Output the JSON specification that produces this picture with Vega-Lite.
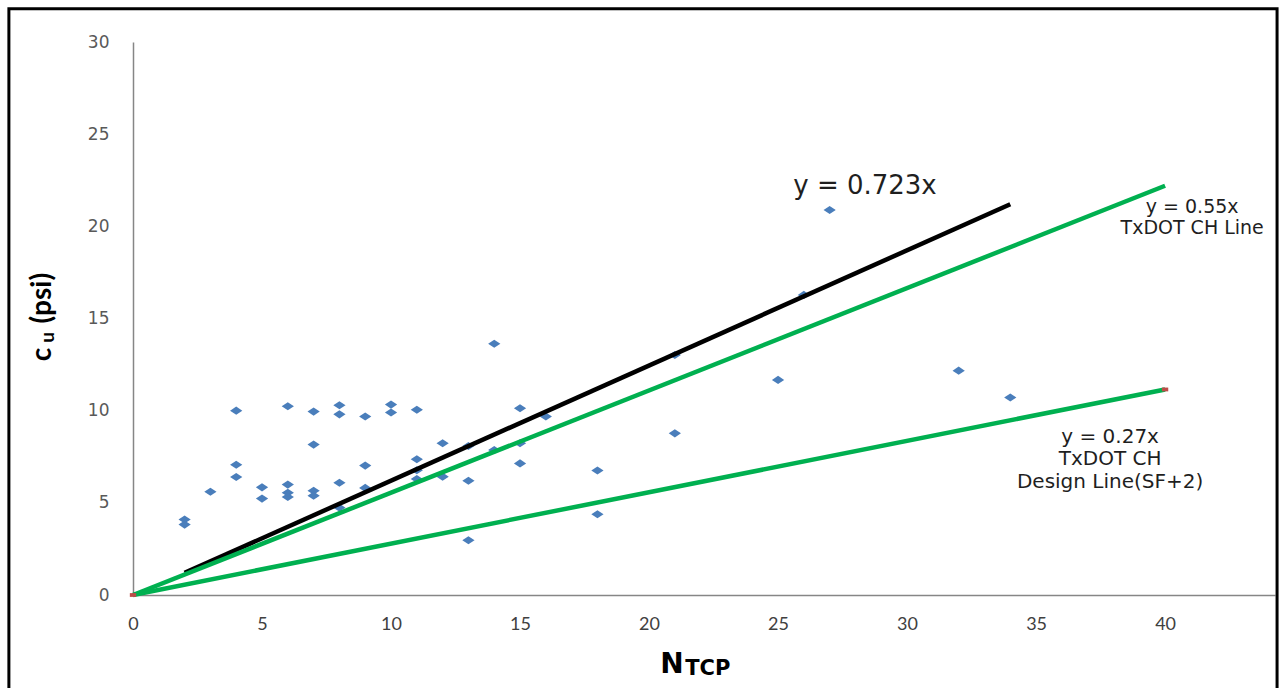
{
  "$schema": "https://vega.github.io/schema/vega-lite/v6.json",
  "width": 1142,
  "height": 553,
  "autosize": {"type": "none"},
  "padding": {"left": 133, "top": 42, "right": 6, "bottom": 93},
  "background": "white",
  "config": {"view": {"stroke": null}},
  "datasets": {
    "points": [
      {"x": 2, "y": 4.10}, {"x": 2, "y": 3.82}, {"x": 3, "y": 5.60},
      {"x": 4, "y": 10.00}, {"x": 4, "y": 7.07}, {"x": 4, "y": 6.40},
      {"x": 5, "y": 5.84}, {"x": 5, "y": 5.23},
      {"x": 6, "y": 10.24}, {"x": 6, "y": 5.99}, {"x": 6, "y": 5.55}, {"x": 6, "y": 5.32},
      {"x": 7, "y": 9.95}, {"x": 7, "y": 8.16}, {"x": 7, "y": 5.66}, {"x": 7, "y": 5.39},
      {"x": 8, "y": 10.29}, {"x": 8, "y": 9.80}, {"x": 8, "y": 6.09}, {"x": 8, "y": 4.74},
      {"x": 9, "y": 9.68}, {"x": 9, "y": 7.02}, {"x": 9, "y": 5.81},
      {"x": 10, "y": 10.33}, {"x": 10, "y": 9.90},
      {"x": 11, "y": 10.05}, {"x": 11, "y": 7.36}, {"x": 11, "y": 6.77}, {"x": 11, "y": 6.29},
      {"x": 12, "y": 8.23}, {"x": 12, "y": 6.42},
      {"x": 13, "y": 8.08}, {"x": 13, "y": 6.20}, {"x": 13, "y": 2.97},
      {"x": 14, "y": 13.63}, {"x": 14, "y": 7.87},
      {"x": 15, "y": 10.13}, {"x": 15, "y": 8.23}, {"x": 15, "y": 7.14},
      {"x": 16, "y": 9.68},
      {"x": 18, "y": 6.75}, {"x": 18, "y": 4.38},
      {"x": 21, "y": 13.02}, {"x": 21, "y": 8.77},
      {"x": 25, "y": 11.67}, {"x": 26, "y": 16.28}, {"x": 27, "y": 20.89},
      {"x": 32, "y": 12.17}, {"x": 34, "y": 10.71}
    ],
    "lines": [
      {"series": "fit", "x": 2, "y": 1.2},
      {"series": "fit", "x": 34, "y": 21.2},
      {"series": "ch", "x": 0, "y": 0},
      {"series": "ch", "x": 40, "y": 22.2},
      {"series": "design", "x": 0, "y": 0},
      {"series": "design", "x": 40, "y": 11.15}
    ],
    "markers": [
      {"x": 0, "y": 0},
      {"x": 40, "y": 11.15}
    ],
    "labels": [
      {"role": "fit", "x": 28.37, "y": 22.19, "text": "y = 0.723x"},
      {"role": "ch", "x": 41.05, "y": 21.05, "text": "y = 0.55x"},
      {"role": "ch", "x": 41.05, "y": 19.91, "text": "TxDOT CH Line"},
      {"role": "design", "x": 37.87, "y": 8.57, "text": "y = 0.27x"},
      {"role": "design", "x": 37.87, "y": 7.40, "text": "TxDOT CH"},
      {"role": "design", "x": 37.87, "y": 6.13, "text": "Design Line(SF+2)"},
      {"role": "ymain", "x": -3.18, "y": 13.05, "text": "c"},
      {"role": "ymain", "x": -3.18, "y": 16.10, "text": "(psi)"},
      {"role": "ysub", "x": -3.08, "y": 13.97, "text": "u"},
      {"role": "xmain", "x": 20.89, "y": -4.23, "text": "N"},
      {"role": "xsub", "x": 21.40, "y": -4.34, "text": "TCP"}
    ],
    "frame": [
      {"x": -4.81, "x2": 44.34, "y": 31.8, "y2": -6}
    ]
  },
  "encoding": {
    "x": {
      "field": "x", "type": "quantitative",
      "scale": {"domain": [0, 44.26], "nice": false, "zero": false},
      "axis": {
        "title": null, "values": [0, 5, 10, 15, 20, 25, 30, 35, 40],
        "grid": false, "ticks": false,
        "domainColor": "#868686", "domainWidth": 1.5,
        "labelFont": "Lato", "labelFontSize": 18, "labelColor": "#404040",
        "labelPadding": 20, "labelFlush": false, "labelBound": false, "labelOverlap": false
      }
    },
    "y": {
      "field": "y", "type": "quantitative",
      "scale": {"domain": [0, 30], "nice": false, "zero": false},
      "axis": {
        "title": null, "values": [0, 5, 10, 15, 20, 25, 30],
        "grid": false, "ticks": false,
        "domainColor": "#868686", "domainWidth": 1.5,
        "labelFont": "DejaVu Sans", "labelFontSize": 17, "labelColor": "#595959",
        "labelPadding": 24, "labelFlush": false, "labelBound": false, "labelOverlap": false
      }
    }
  },
  "layer": [
    {
      "data": {"name": "points"},
      "mark": {"type": "point", "shape": "M-1,0L0,-0.66L1,0L0,0.66Z", "filled": true, "size": 150, "color": "#4A7EBB", "opacity": 1}
    },
    {
      "data": {"name": "lines"},
      "mark": {"type": "line", "strokeWidth": 4.5, "strokeCap": "butt"},
      "encoding": {
        "detail": {"field": "series"},
        "color": {
          "field": "series", "type": "nominal",
          "scale": {"domain": ["fit", "ch", "design"], "range": ["#000000", "#00B050", "#00B050"]},
          "legend": null
        }
      }
    },
    {
      "data": {"name": "markers"},
      "mark": {"type": "point", "shape": "M-1,-0.6L1,-0.6L1,0.6L-1,0.6Z", "filled": true, "size": 40, "color": "#BE4B48", "opacity": 1}
    },
    {
      "data": {"name": "labels"},
      "transform": [{"filter": "datum.role == 'fit'"}],
      "mark": {"type": "text", "font": "DejaVu Sans", "fontSize": 26, "color": "#1f1f1f", "align": "center", "baseline": "middle"},
      "encoding": {"text": {"field": "text"}}
    },
    {
      "data": {"name": "labels"},
      "transform": [{"filter": "datum.role == 'ch'"}],
      "mark": {"type": "text", "font": "DejaVu Sans", "fontSize": 19, "color": "#1f1f1f", "align": "center", "baseline": "middle"},
      "encoding": {"text": {"field": "text"}}
    },
    {
      "data": {"name": "labels"},
      "transform": [{"filter": "datum.role == 'design'"}],
      "mark": {"type": "text", "font": "DejaVu Sans", "fontSize": 20, "color": "#1f1f1f", "align": "center", "baseline": "middle"},
      "encoding": {"text": {"field": "text"}}
    },
    {
      "data": {"name": "labels"},
      "transform": [{"filter": "datum.role == 'ymain'"}],
      "mark": {"type": "text", "font": "Lato", "fontWeight": "bold", "fontSize": 28, "color": "#000000", "align": "center", "baseline": "alphabetic", "angle": 270},
      "encoding": {"text": {"field": "text"}}
    },
    {
      "data": {"name": "labels"},
      "transform": [{"filter": "datum.role == 'ysub'"}],
      "mark": {"type": "text", "font": "Lato", "fontWeight": "bold", "fontSize": 19, "color": "#000000", "align": "center", "baseline": "alphabetic", "angle": 270},
      "encoding": {"text": {"field": "text"}}
    },
    {
      "data": {"name": "labels"},
      "transform": [{"filter": "datum.role == 'xmain'"}],
      "mark": {"type": "text", "font": "DejaVu Sans", "fontWeight": "bold", "fontSize": 28, "color": "#000000", "align": "center", "baseline": "alphabetic"},
      "encoding": {"text": {"field": "text"}}
    },
    {
      "data": {"name": "labels"},
      "transform": [{"filter": "datum.role == 'xsub'"}],
      "mark": {"type": "text", "font": "DejaVu Sans", "fontWeight": "bold", "fontSize": 21, "color": "#000000", "align": "left", "baseline": "alphabetic"},
      "encoding": {"text": {"field": "text"}}
    },
    {
      "data": {"name": "frame"},
      "mark": {"type": "rect", "filled": false, "stroke": "#000000", "strokeWidth": 3, "clip": false},
      "encoding": {
        "x2": {"field": "x2"},
        "y2": {"field": "y2"}
      }
    }
  ]
}
